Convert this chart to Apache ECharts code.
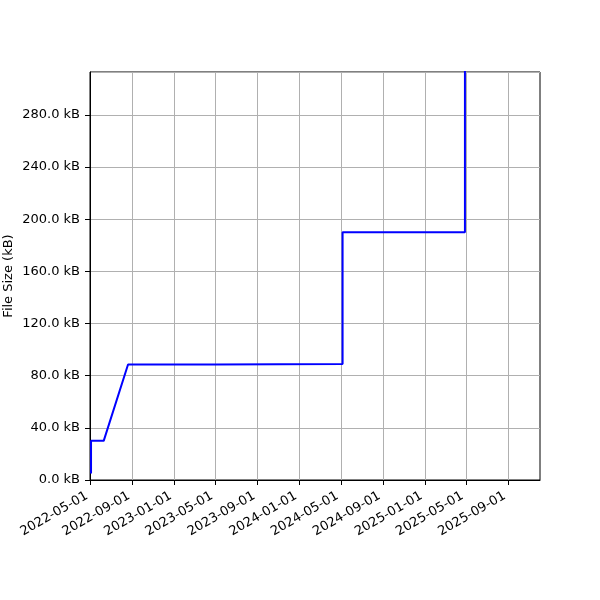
<!DOCTYPE html>
<html>
<head>
<meta charset="utf-8">
<script src="https://cdn.jsdelivr.net/npm/echarts@6/dist/echarts.min.js"></script>
<style>
  html, body { margin: 0; padding: 0; background: #fff; }
  #chart { width: 600px; height: 600px; }
</style>
</head>
<body>
<div id="chart"></div>
<script>
// file size history
var dates = ['2022-05-03', '2022-05-03', '2022-06-09', '2022-08-19', '2023-05-01', '2023-05-01',
             '2024-05-06', '2024-05-06', '2025-04-28', '2025-04-28'];
var sizes = [5, 30, 30, 88.6, 88.6, 88.9, 88.9, 190, 190, 340];

var tickDates = ['2022-05-01', '2022-09-01', '2023-01-01', '2023-05-01', '2023-09-01', '2024-01-01',
                 '2024-05-01', '2024-09-01', '2025-01-01', '2025-05-01', '2025-09-01'];

var xMin = '2022-04-30';
var xMax = '2025-12-03';
var yMax = 312.8;

function ts(d) {
    return Date.parse(d + 'T00:00:00Z');
}

function pad(n) {
    return n < 10 ? '0' + n : '' + n;
}

var tickValues = tickDates.map(ts);
var seriesData = dates.map(function (d, i) { return [ts(d), sizes[i]]; });

var chart = echarts.init(document.getElementById('chart'));
var font = 'DejaVu Sans';

chart.setOption({
    animation: false,
    textStyle: { fontFamily: font },
    grid: {
        left: 90, right: 60, top: 72, bottom: 120,
        containLabel: false, outerBoundsMode: 'none',
        show: true, borderColor: '#000', borderWidth: 1, backgroundColor: 'transparent'
    },
    xAxis: {
        type: 'value',
        min: ts(xMin),
        max: ts(xMax),
        axisLine: { lineStyle: { color: '#000', width: 1 } },
        axisTick: {
            show: true, inside: false, length: 5,
            lineStyle: { color: '#000', width: 1 },
            customValues: tickValues
        },
        axisLabel: {
            color: '#000', fontSize: 13, fontFamily: font,
            rotate: 30, margin: 13, padding: [0, 4, 0, 0],
            customValues: tickValues,
            hideOverlap: false,
            formatter: function (val) {
                var d = new Date(val);
                return d.getUTCFullYear() + '-' + pad(d.getUTCMonth() + 1) + '-' + pad(d.getUTCDate());
            }
        },
        splitLine: {
            show: true,
            lineStyle: { color: '#b0b0b0', width: 1 },
            customValues: tickValues
        }
    },
    yAxis: {
        type: 'value',
        min: 0,
        max: yMax,
        interval: 40,
        name: 'File Size (kB)',
        nameLocation: 'middle',
        nameRotate: 90,
        nameGap: 75,
        nameMoveOverlap: false,
        nameTextStyle: { color: '#000', fontSize: 13, fontFamily: font },
        axisLine: { show: true, lineStyle: { color: '#000', width: 1 } },
        axisTick: { show: true, inside: false, length: 5, lineStyle: { color: '#000', width: 1 } },
        axisLabel: {
            color: '#000', fontSize: 13, fontFamily: font, margin: 10,
            showMaxLabel: false,
            formatter: function (v) { return v.toFixed(1) + ' kB'; }
        },
        splitLine: { show: true, lineStyle: { color: '#b0b0b0', width: 1 } }
    },
    series: [{
        type: 'line',
        data: seriesData,
        showSymbol: false,
        clip: true,
        lineStyle: { color: '#0000ff', width: 2 },
        itemStyle: { color: '#0000ff' }
    }]
});
</script>
</body>
</html>
